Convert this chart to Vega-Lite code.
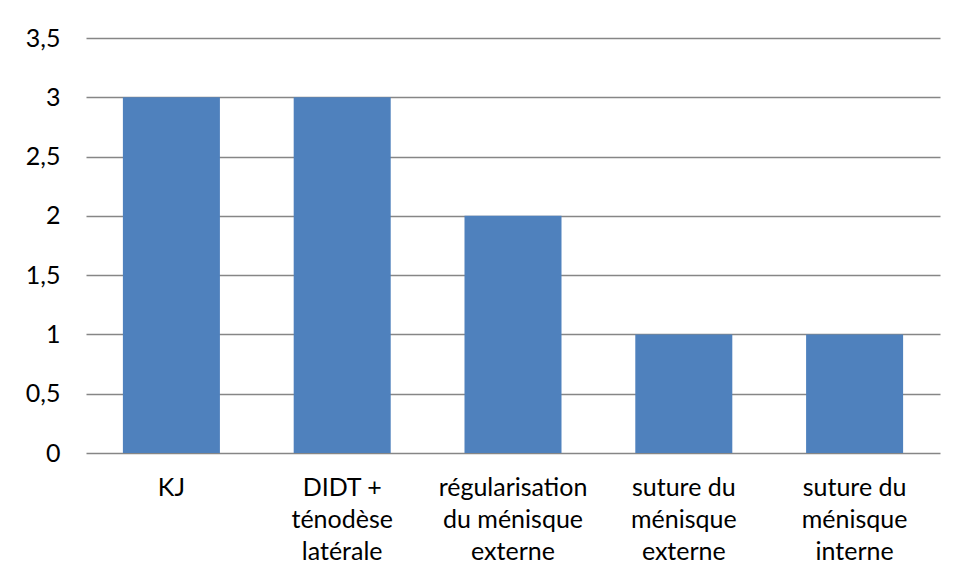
{
  "$schema": "https://vega.github.io/schema/vega-lite/v6.json",
  "width": 854,
  "height": 415,
  "autosize": "none",
  "padding": {"left": 86, "top": 38, "right": 18, "bottom": 127},
  "background": "white",
  "config": {
    "view": {"stroke": null},
    "font": "Lato",
    "axis": {"labelFont": "Lato", "labelColor": "#000000"}
  },
  "data": {
    "values": [
      {"intervention": "KJ", "n": 3},
      {"intervention": "DIDT +\nténodèse\nlatérale", "n": 3},
      {"intervention": "régularisation\ndu ménisque\nexterne", "n": 2},
      {"intervention": "suture du\nménisque\nexterne", "n": 1},
      {"intervention": "suture du\nménisque\ninterne", "n": 1}
    ]
  },
  "mark": {"type": "bar", "color": "#4F81BD"},
  "encoding": {
    "x": {
      "field": "intervention",
      "type": "nominal",
      "sort": null,
      "scale": {"paddingInner": 0.432, "paddingOuter": 0.216},
      "axis": {
        "title": null,
        "domain": false,
        "ticks": false,
        "labelAngle": 0,
        "labelFontSize": 25,
        "labelLineHeight": 32,
        "labelBaseline": "top",
        "labelPadding": 22,
        "labelExpr": "split(datum.value, '\\n')"
      }
    },
    "y": {
      "field": "n",
      "type": "quantitative",
      "scale": {"domain": [0, 3.5], "nice": false},
      "axis": {
        "title": null,
        "values": [0, 0.5, 1, 1.5, 2, 2.5, 3, 3.5],
        "domain": false,
        "ticks": false,
        "grid": true,
        "gridColor": "#868686",
        "gridWidth": 1.5,
        "gridOpacity": 1,
        "labelFontSize": 25,
        "labelPadding": 26,
        "labelExpr": "replace(format(datum.value, ''), '.', ',')"
      }
    }
  }
}
